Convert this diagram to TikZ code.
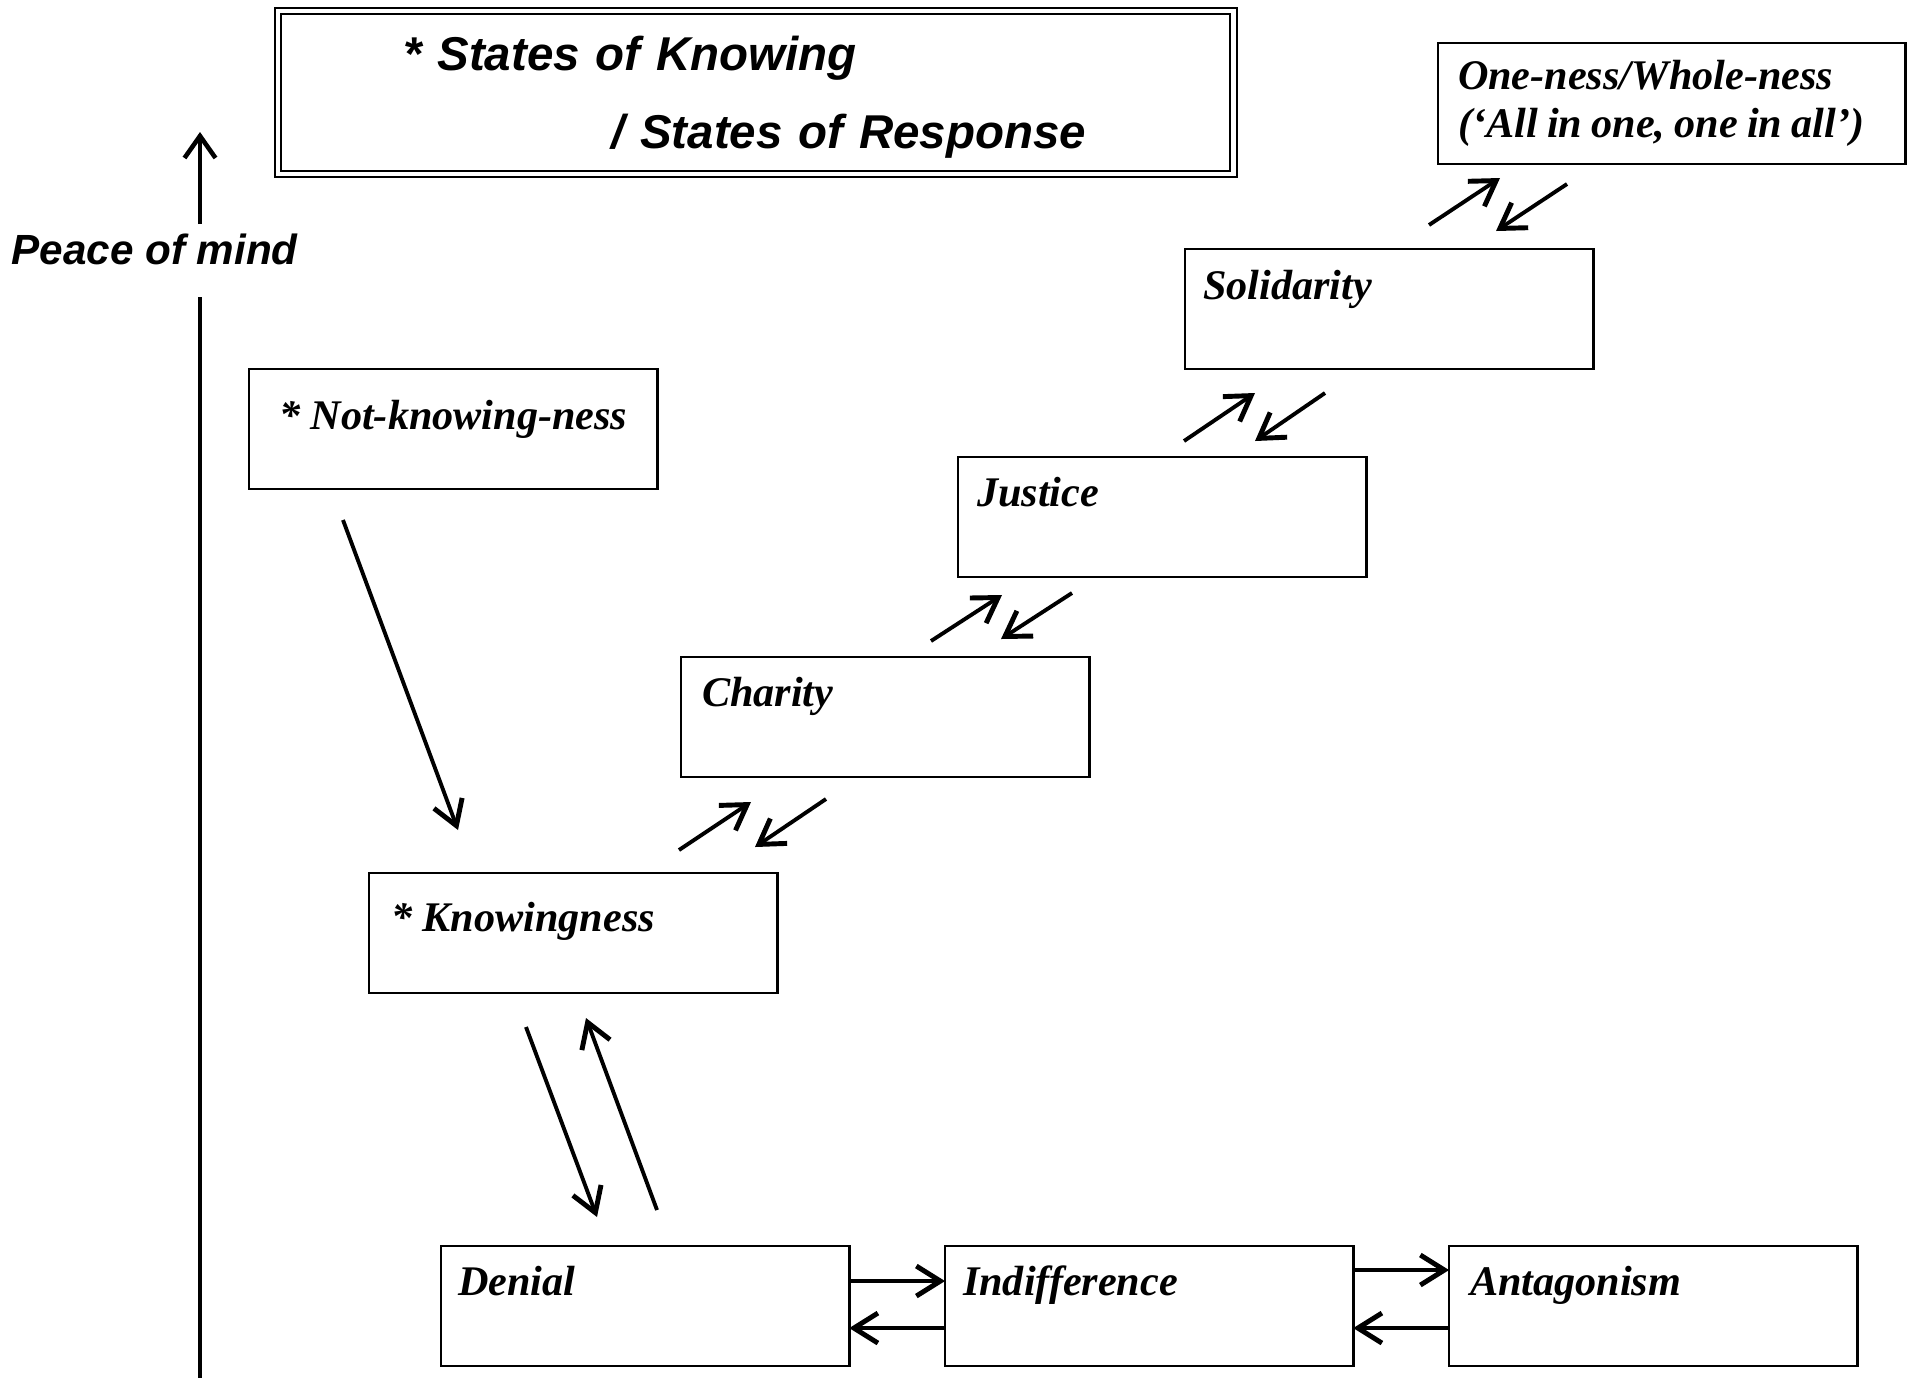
\documentclass[tikz,border=0pt]{standalone}
\usepackage{fontspec}
\setmainfont{Liberation Serif}
\newfontfamily\headsans{Liberation Sans}
\usetikzlibrary{arrows.meta}

\newcommand\boxfont{\bfseries\itshape\fontsize{12pt}{12.8pt}\selectfont}
\newcommand\headfont{\headsans\bfseries\itshape}

\tikzset{
  stbox/.style n args={3}{draw, line width=0.75pt, anchor=north west, outer sep=0pt,
    inner ysep=0pt, inner xsep=#1, minimum width=4.08cm, minimum height=1.2cm,
    text height=#2, text depth=#3, font=\boxfont},
  flow/.style={line width=1.1pt,
    -{Straight Barb[length=0.24cm, width=0.30cm, line width=1.4pt]}},
  axisline/.style={line width=1.1pt},
}

\begin{document}
\begin{tikzpicture}[x=0.01cm, y=-0.01cm]
  \fill[white] (0,0) rectangle (1916,1378);
  \useasboundingbox (0,0) rectangle (1916,1378);

  % title
  \node[draw, double, double distance=0.045cm, line width=0.55pt, anchor=north west,
        outer sep=0pt, inner sep=0pt, minimum width=9.55cm, minimum height=1.63cm,
        text width=9.55cm, align=left, text height=0.59cm, text depth=1.04cm,
        font=\headfont\fontsize{13.5pt}{22.2pt}\selectfont] (title) at (278,11)
    {\hspace*{1.25cm}* States of Knowing\\\hspace*{3.33cm}/ States of Response};

  % vertical axis
  \node[anchor=base west, inner sep=0pt, font=\headfont\fontsize{12pt}{14pt}\selectfont]
    (pom) at (11,264) {Peace of mind};
  \coordinate (axtip) at (200,132);
  \coordinate (axup) at (200,224);
  \coordinate (axlow) at (200,297);
  \coordinate (axend) at (200,1378);
  \draw[axisline, -{Straight Barb[length=0.22cm, width=0.31cm, line width=1.3pt]}]
    (axup) -- (axtip);
  \draw[axisline] (axlow) -- (axend);

  % states
  \node[stbox={0.30cm}{0.60cm}{0.60cm}] (nk) at (249,369) {\makebox[3.48cm][l]{* Not-knowing-ness}};
  \node[stbox={0.22cm}{0.58cm}{0.62cm}] (kn) at (369,873) {\makebox[3.64cm][l]{* Knowingness}};
  \node[stbox={0.21cm}{0.49cm}{0.71cm}] (ch) at (681,657) {\makebox[3.66cm][l]{Charity}};
  \node[stbox={0.19cm}{0.49cm}{0.71cm}] (ju) at (958,457) {\makebox[3.70cm][l]{Justice}};
  \node[stbox={0.18cm}{0.50cm}{0.70cm}] (so) at (1185,249) {\makebox[3.72cm][l]{Solidarity}};
  \node[draw, line width=0.75pt, anchor=north west, outer sep=0pt, inner ysep=0pt,
        inner xsep=0.2cm, minimum width=4.67cm, minimum height=1.21cm,
        text width=4.27cm, align=left, font=\bfseries\itshape\fontsize{12pt}{13.6pt}\selectfont]
    (on) at (1438,43)
    {\makebox[4.27cm][l]{One-ness/Whole-ness}\\\makebox[4.27cm][l]{\spaceskip=0.22em (‘All in one, one in all’)}};
  \node[stbox={0.17cm}{0.49cm}{0.71cm}] (de) at (441,1246) {\makebox[3.74cm][l]{Denial}};
  \node[stbox={0.18cm}{0.49cm}{0.71cm}] (in) at (945,1246) {\makebox[3.72cm][l]{Indifference}};
  \node[stbox={0.21cm}{0.49cm}{0.71cm}] (an) at (1449,1246) {\makebox[3.66cm][l]{Antagonism}};

  % arrow ends between the states
  \coordinate (nkA) at (343,520);  \coordinate (nkB) at (458,830);
  \coordinate (kdA) at (526,1027); \coordinate (kdB) at (597,1217);
  \coordinate (dkA) at (657,1210); \coordinate (dkB) at (586,1018);
  \coordinate (kcA) at (679,850);  \coordinate (kcB) at (751,802);
  \coordinate (ckA) at (826,799);  \coordinate (ckB) at (755,847);
  \coordinate (cjA) at (931,641);  \coordinate (cjB) at (1002,595);
  \coordinate (jcA) at (1072,593); \coordinate (jcB) at (1001,639);
  \coordinate (jsA) at (1184,441); \coordinate (jsB) at (1255,393);
  \coordinate (sjA) at (1325,393); \coordinate (sjB) at (1255,441);
  \coordinate (soA) at (1429,225); \coordinate (soB) at (1500,178);
  \coordinate (osA) at (1567,184); \coordinate (osB) at (1496,231);

  \draw[flow] (nkA) -- (nkB);
  \draw[flow] (kdA) -- (kdB);
  \draw[flow] (dkA) -- (dkB);
  \draw[flow] (kcA) -- (kcB);
  \draw[flow] (ckA) -- (ckB);
  \draw[flow] (cjA) -- (cjB);
  \draw[flow] (jcA) -- (jcB);
  \draw[flow] (jsA) -- (jsB);
  \draw[flow] (sjA) -- (sjB);
  \draw[flow] (soA) -- (soB);
  \draw[flow] (osA) -- (osB);

  % horizontal exchanges along the bottom row
  \draw[flow] ([yshift=0.25cm]de.east) -- ([yshift=0.25cm]in.west);
  \draw[flow] ([yshift=-0.22cm]in.west) -- ([yshift=-0.22cm]de.east);
  \draw[flow] ([yshift=0.36cm]in.east) -- ([yshift=0.36cm]an.west);
  \draw[flow] ([yshift=-0.22cm]an.west) -- ([yshift=-0.22cm]in.east);
\end{tikzpicture}
\end{document}
